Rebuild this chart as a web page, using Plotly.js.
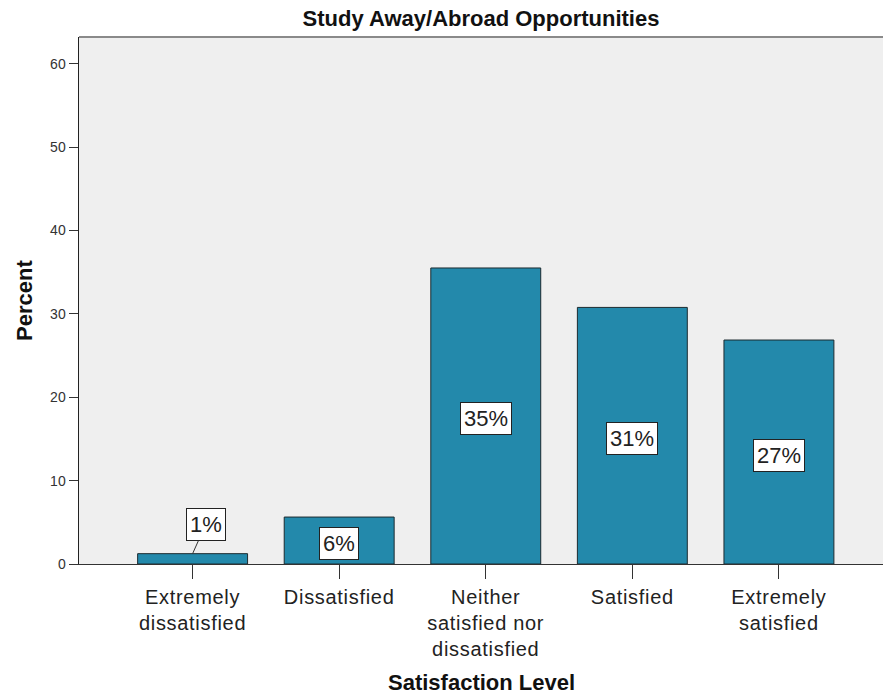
<!DOCTYPE html>
<html>
<head>
<meta charset="utf-8">
<script src="https://cdn.plot.ly/plotly-3.0.1.min.js"></script>
<style>
  html, body { margin: 0; padding: 0; background: #fff; }
  #chart { width: 883px; height: 698px; }
  /* SPSS-like airy lettering on the category labels */
  #chart .xtick text { letter-spacing: 0.7px; }
</style>
</head>
<body>
<div id="chart"></div>
<script>
// satisfaction categories and percent of respondents
const categories = [
    'Extremely<br>dissatisfied',
    'Dissatisfied',
    'Neither<br>satisfied nor<br>dissatisfied',
    'Satisfied',
    'Extremely<br>satisfied'
];
const percents = [1.24, 5.63, 35.5, 30.77, 26.86];
const pctLabels = ['1%', '6%', '35%', '31%', '27%'];

const barColor = '#2389ab';
const fontFamily = 'Liberation Sans, Arial, sans-serif';

const trace = {
    type: 'bar',
    x: categories.map((c, i) => i),
    y: percents,
    width: 0.75,
    marker: {color: barColor, line: {color: '#1c2b30', width: 1}},
    hoverinfo: 'skip'
};

// boxed percent labels, middle of each bar; the small one sits above with a leader line
const annotations = percents.map((v, i) => {
    const base = {
        x: i,
        text: pctLabels[i],
        font: {family: fontFamily, size: 22, color: '#222'},
        bgcolor: '#ffffff',
        bordercolor: '#222',
        borderwidth: 1,
        borderpad: 3
    };
    if (v < 3) {
        return Object.assign(base, {
            y: v, showarrow: true, arrowhead: 0, arrowwidth: 1,
            arrowcolor: '#333', ax: 13, ay: -29, standoff: 0
        });
    }
    return Object.assign(base, {y: v / 2, yshift: -3, showarrow: false});
});

annotations.push({
    xref: 'paper', yref: 'paper', x: -0.0678, y: 0.5,
    xanchor: 'center', yanchor: 'middle',
    text: '<b>Percent</b>', textangle: -90, showarrow: false,
    font: {family: fontFamily, size: 22, color: '#111'}
});
annotations.push({
    xref: 'paper', yref: 'paper', x: 0.5, y: -0.2258,
    xanchor: 'center', yanchor: 'middle',
    text: '<b>Satisfaction Level</b>', showarrow: false,
    font: {family: fontFamily, size: 22, color: '#111'}
});

const layout = {
    width: 883,
    height: 698,
    margin: {l: 79, r: 0, t: 37, b: 134},
    paper_bgcolor: '#ffffff',
    plot_bgcolor: '#efefef',
    showlegend: false,
    title: {
        text: '<b>Study Away/Abroad Opportunities</b>',
        font: {family: fontFamily, size: 22, color: '#111'},
        x: 0.5, xref: 'paper', y: 0.974, yanchor: 'middle'
    },
    xaxis: {
        range: [-0.775, 4.71],
        tickvals: categories.map((c, i) => i),
        ticktext: categories,
        ticks: 'outside', ticklen: 14, tickcolor: '#333', tickwidth: 1,
        tickfont: {family: fontFamily, size: 20, color: '#222'},
        ticklabelstandoff: 1,
        showline: true, linecolor: '#333', linewidth: 1,
        showgrid: false, zeroline: false
    },
    yaxis: {
        range: [0, 63.2],
        dtick: 10,
        ticks: 'outside', ticklen: 9, tickcolor: '#333', tickwidth: 1,
        tickfont: {family: fontFamily, size: 14, color: '#333'},
        showline: true, linecolor: '#222', linewidth: 1.5,
        showgrid: false, zeroline: false
    },
    shapes: [{
        type: 'line', xref: 'paper', yref: 'paper',
        x0: 0, x1: 1, y0: 1, y1: 1,
        line: {color: '#8a8a8a', width: 2}
    }],
    annotations: annotations
};

Plotly.newPlot('chart', [trace], layout, {displayModeBar: false, staticPlot: true});
</script>
</body>
</html>
